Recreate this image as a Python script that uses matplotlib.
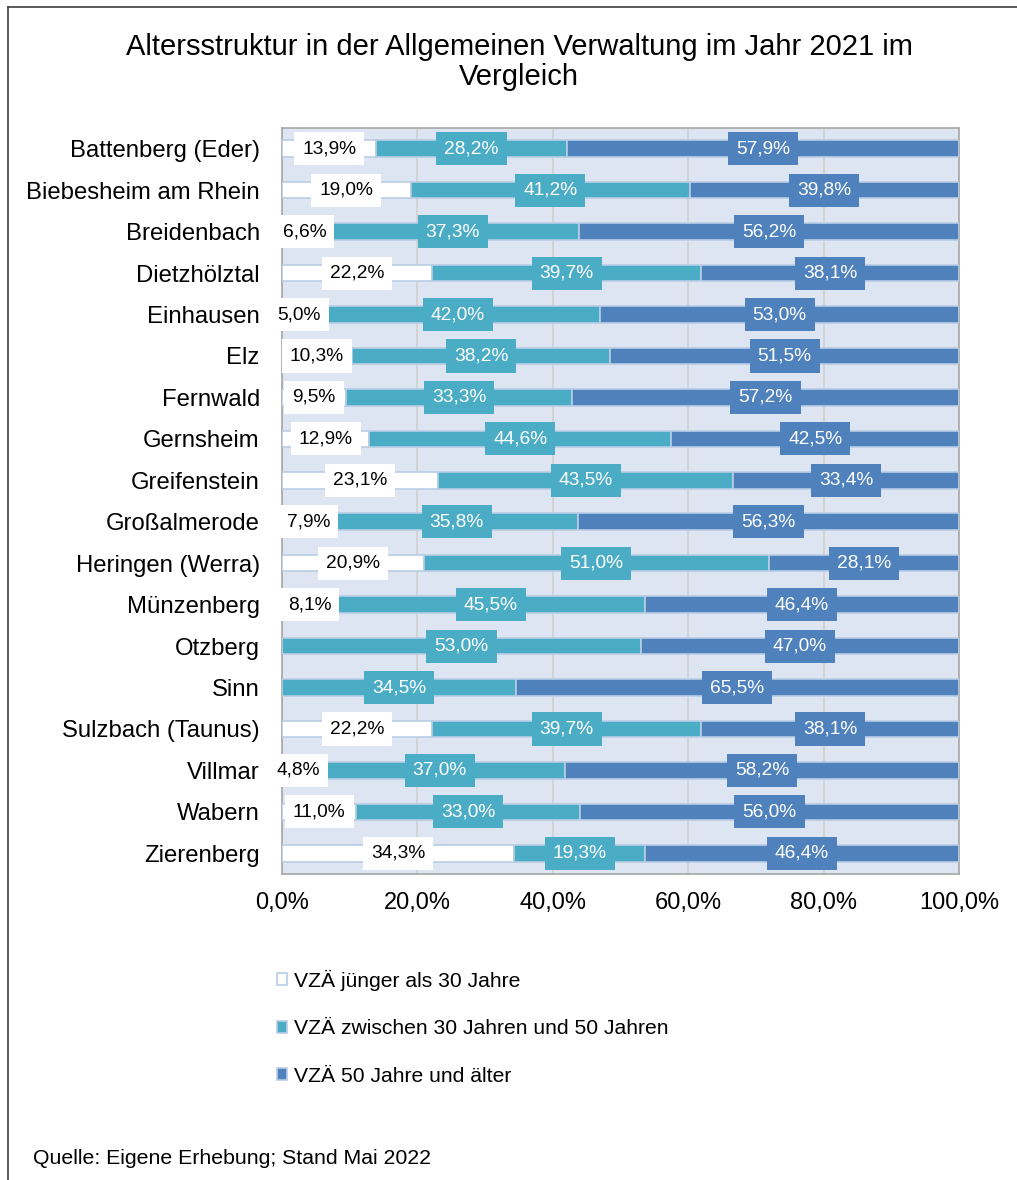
import numpy as np
import matplotlib.pyplot as plt
from matplotlib.lines import Line2D
from matplotlib.patches import Patch

plt.rcParams['font.family'] = ['Liberation Sans', 'DejaVu Sans']

gemeinden = ['Battenberg (Eder)', 'Biebesheim am Rhein', 'Breidenbach', 'Dietzhölztal',
             'Einhausen', 'Elz', 'Fernwald', 'Gernsheim', 'Greifenstein', 'Großalmerode',
             'Heringen (Werra)', 'Münzenberg', 'Otzberg', 'Sinn', 'Sulzbach (Taunus)',
             'Villmar', 'Wabern', 'Zierenberg']
unter30 = [13.9, 19.0, 6.6, 22.2, 5.0, 10.3, 9.5, 12.9, 23.1, 7.9, 20.9, 8.1, 0.0, 0.0, 22.2, 4.8, 11.0, 34.3]
zw30_50 = [28.2, 41.2, 37.3, 39.7, 42.0, 38.2, 33.3, 44.6, 43.5, 35.8, 51.0, 45.5, 53.0, 34.5, 39.7, 37.0, 33.0, 19.3]
ab50 = [57.9, 39.8, 56.2, 38.1, 53.0, 51.5, 57.2, 42.5, 33.4, 56.3, 28.1, 46.4, 47.0, 65.5, 38.1, 58.2, 56.0, 46.4]
serien = ['VZÄ jünger als 30 Jahre', 'VZÄ zwischen 30 Jahren und 50 Jahren', 'VZÄ 50 Jahre und älter']
farben = ['#FFFFFF', '#4BACC6', '#4F81BD']
textfarben = ['black', 'white', 'white']

werte = np.array([unter30, zw30_50, ab50])
anteile = werte / werte.sum(axis=0) * 100

fig = plt.figure(figsize=(10.17, 11.8), dpi=100)
ax = fig.add_axes([0.2773, 0.2593, 0.6657, 0.6322])
ax.set_facecolor('#DCE5F1')

y = np.arange(len(gemeinden))
links = np.zeros(len(gemeinden))
for k in range(3):
    ax.barh(y, anteile[k], left=links, height=0.4, color=farben[k],
            edgecolor='#B9CDE5', linewidth=1.2, zorder=3)
    for i in range(len(gemeinden)):
        if werte[k][i] <= 0:
            continue
        txt = f'{werte[k][i]:.1f}%'.replace('.', ',')
        ax.text(links[i] + anteile[k][i] / 2, y[i], txt, ha='center', va='center',
                fontsize=13.8, color=textfarben[k], zorder=5, clip_on=False,
                bbox=dict(boxstyle='square,pad=0.42', fc=farben[k], ec='none'))
    links += anteile[k]

ax.set_xlim(0, 100)
ax.set_ylim(len(gemeinden) - 0.5, -0.5)
ax.set_yticks(y)
ax.set_yticklabels(gemeinden, fontsize=17.2)
ax.set_xticks(np.arange(0, 101, 20))
ax.set_xticklabels([f'{v},0%' for v in range(0, 101, 20)], fontsize=17)
ax.tick_params(length=0)
ax.tick_params(axis='y', pad=16)
ax.tick_params(axis='x', pad=13)
ax.grid(axis='x', color='#D0D0D0', linewidth=1.2, zorder=1)
for s in ax.spines.values():
    s.set_color('#A6A6A6')
    s.set_linewidth(1.2)

fig.text(0.5103, 1 - 62 / 1180,
         'Altersstruktur in der Allgemeinen Verwaltung im Jahr 2021 im\nVergleich',
         fontsize=21, ha='center', va='center', linespacing=1.12)

handles = [Patch(facecolor=farben[k], edgecolor='#B9CDE5', linewidth=1.2) for k in range(3)]
fig.legend(handles, serien, loc='upper left', bbox_to_anchor=(0.264, 0.1855), frameon=False,
           fontsize=15.2, handlelength=0.5, handleheight=0.5, handletextpad=0.3,
           labelspacing=1.35, borderaxespad=0)

fig.text(0.0325, 1 - 1164 / 1180, 'Quelle: Eigene Erhebung; Stand Mai 2022', fontsize=15.3, va='baseline')

fig.add_artist(Line2D([8 / 1017, 1.0], [1 - 7 / 1180] * 2, color='#404040', linewidth=1.2))
fig.add_artist(Line2D([8 / 1017] * 2, [0.0, 1 - 7 / 1180], color='#404040', linewidth=1.2))

fig.savefig('out.png', dpi=100)
